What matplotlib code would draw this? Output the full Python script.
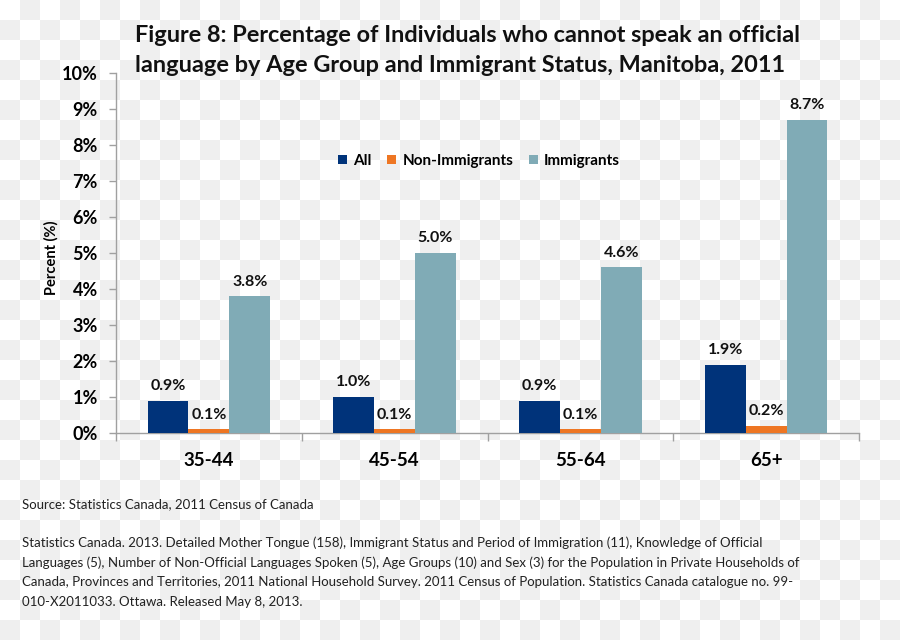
import numpy as np
import matplotlib
matplotlib.use("Agg")
import matplotlib.pyplot as plt

categories = ["35-44", "45-54", "55-64", "65+"]
series_names = ["All", "Non-Immigrants", "Immigrants"]
all_vals = [0.9, 1.0, 0.9, 1.9]
non_imm_vals = [0.1, 0.1, 0.1, 0.2]
imm_vals = [3.8, 5.0, 4.6, 8.7]
y_ticks = [0, 1, 2, 3, 4, 5, 6, 7, 8, 9, 10]

colors = ["#00337a", "#ee7623", "#80abb6"]
FONT = "Lato"
plt.rcParams["font.family"] = [FONT, "DejaVu Sans"]

W, H = 900, 640
fig = plt.figure(figsize=(W / 100, H / 100), dpi=100, facecolor="white")

# checkerboard background
bg = fig.add_axes([0, 0, 1, 1], zorder=-10)
nrow, ncol = H // 20, W // 20 + 1
board = (np.add.outer(np.arange(nrow), np.arange(ncol)) % 2).astype(float)
big = np.kron(board, np.ones((20, 20)))[:H, :W]
bg.imshow(big, cmap=matplotlib.colors.ListedColormap(["#ffffff", "#efefef"]),
          interpolation="nearest", aspect="auto", extent=[0, W, H, 0])
bg.set_axis_off()

ax = fig.add_axes([116 / W, 1 - 433 / H, (859 - 116) / W, (433 - 73) / H])
ax.patch.set_alpha(0)

x = np.arange(len(categories))
bw = 0.22
series = [all_vals, non_imm_vals, imm_vals]
for i, (vals, name, c) in enumerate(zip(series, series_names, colors)):
    pos = x + (i - 1) * bw
    ax.bar(pos, vals, width=bw, color=c, label=name, zorder=3)
    for p, v in zip(pos, vals):
        ax.annotate(f"{v:.1f}%", (p, v), xytext=(0, 5.5), textcoords="offset points",
                    ha="center", va="bottom", fontsize=11.5, fontweight="bold",
                    color="#111111")

ax.set_xlim(-0.5, len(categories) - 0.5)
ax.set_ylim(0, 10)
ax.set_yticks(y_ticks)
ax.set_yticklabels([f"{t}%" for t in y_ticks], fontsize=13, fontweight="bold")
ax.set_xticks(x)
ax.set_xticklabels(categories, fontsize=13.5, fontweight="bold")
ax.set_xticks(np.arange(len(categories) + 1) - 0.5, minor=True)
ax.tick_params(axis="x", which="major", length=0, pad=14)
ax.tick_params(axis="x", which="minor", length=6, color="#a0a0a0", width=1)
ax.tick_params(axis="y", length=5, color="#a0a0a0", width=1, pad=8)
for s in ["top", "right"]:
    ax.spines[s].set_visible(False)
for s in ["left", "bottom"]:
    ax.spines[s].set_color("#a0a0a0")
    ax.spines[s].set_linewidth(1)
ax.set_ylabel("Percent (%)", fontsize=10.5, fontweight="bold")
ax.yaxis.set_label_coords((59 - 116) / 743, (433 - 258) / 360)

leg = ax.legend(loc="center", bbox_to_anchor=(479 / W, 1 - 161 / H),
                bbox_transform=fig.transFigure, ncol=3, frameon=False,
                handlelength=0.6, handleheight=0.6, handletextpad=0.4,
                columnspacing=1.0, prop={"family": FONT, "weight": "bold", "size": 11})

fig.text(135 / W, 1 - 36 / H,
         "Figure 8: Percentage of Individuals who cannot speak an official",
         fontsize=16.9, fontweight="bold", ha="left", va="center", color="#111111")
fig.text(135 / W, 1 - 66 / H,
         "language by Age Group and Immigrant Status, Manitoba, 2011",
         fontsize=16.9, fontweight="bold", ha="left", va="center", color="#111111")

fig.text(22 / W, 1 - 504 / H, "Source: Statistics Canada, 2011 Census of Canada",
         fontsize=9.55, ha="left", va="center", color="#222222")
cite = ["Statistics Canada. 2013. Detailed Mother Tongue (158), Immigrant Status and Period of Immigration (11), Knowledge of Official",
        "Languages (5), Number of Non-Official Languages Spoken (5), Age Groups (10) and Sex (3) for the Population in Private Households of",
        "Canada, Provinces and Territories, 2011 National Household Survey. 2011 Census of Population. Statistics Canada catalogue no. 99-",
        "010-X2011033. Ottawa. Released May 8, 2013."]
for k, line in enumerate(cite):
    fig.text(22 / W, 1 - (543 + k * 19.5) / H, line, fontsize=9.55, ha="left",
             va="center", color="#222222")

fig.savefig("out.png", dpi=100, facecolor="white")
